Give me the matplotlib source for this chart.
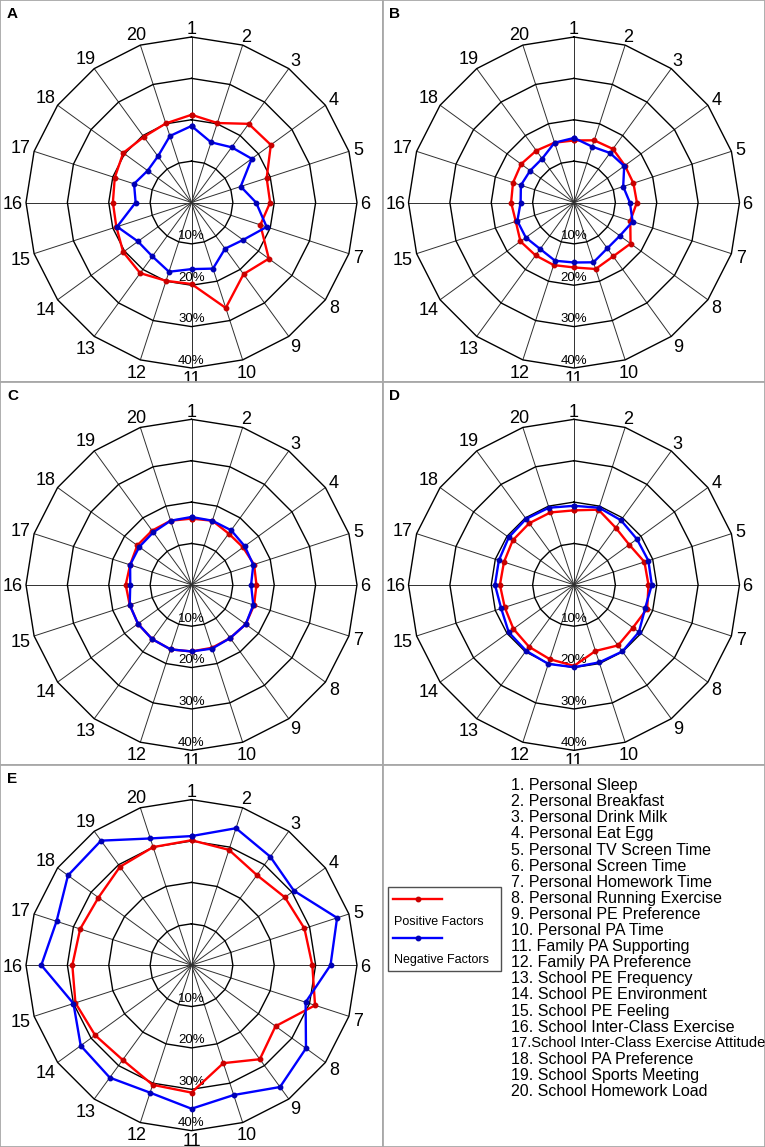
import numpy as np
import matplotlib
matplotlib.use('Agg')
import matplotlib.pyplot as plt
from matplotlib.patches import Rectangle
from matplotlib.lines import Line2D

plt.rcParams['font.family'] = ['Liberation Sans', 'DejaVu Sans']

# 20 factors, values in percent
spokes = list(range(1, 21))
rings = [10, 20, 30, 40]
ring_labels = ['10%', '20%', '30%', '40%']

a_pos = [21.2, 20.2, 23.5, 23.7, 19.1, 19.0, 17.5, 23.1, 21.4, 26.8,
         19.7, 19.9, 21.1, 20.4, 19.1, 19.0, 19.5, 20.4, 19.6, 20.1]
a_neg = [18.5, 15.3, 16.5, 18.0, 12.5, 15.6, 19.1, 15.4, 13.8, 16.8,
         16.1, 17.6, 16.1, 16.0, 18.9, 13.5, 14.6, 13.1, 13.8, 16.9]
b_pos = [15.0, 15.8, 16.0, 15.2, 15.1, 15.2, 14.3, 16.9, 16.1, 16.9,
         15.7, 15.9, 15.8, 16.0, 14.8, 15.2, 15.5, 15.8, 15.5, 15.2]
b_neg = [15.6, 14.2, 14.8, 15.0, 12.5, 13.5, 14.9, 13.7, 13.7, 15.2,
         14.5, 14.8, 13.9, 14.4, 14.4, 12.9, 13.5, 13.1, 13.1, 15.2]
c_pos = [16.0, 16.3, 15.3, 15.4, 15.9, 15.7, 15.9, 16.2, 15.9, 16.0,
         16.1, 16.4, 16.2, 16.0, 15.7, 15.9, 15.6, 16.2, 16.2, 16.3]
c_neg = [16.4, 16.3, 16.3, 15.9, 15.7, 14.4, 15.7, 16.2, 15.9, 16.2,
         16.1, 16.4, 16.2, 16.0, 15.7, 14.8, 15.6, 15.6, 15.7, 16.3]
d_pos = [18.0, 19.1, 17.1, 16.5, 17.9, 18.0, 18.6, 17.6, 18.1, 16.8,
         19.6, 18.9, 18.5, 18.1, 17.6, 17.9, 17.8, 18.3, 18.4, 18.4]
d_neg = [19.1, 19.6, 19.3, 18.8, 18.9, 18.8, 18.1, 19.4, 19.9, 19.7,
         19.9, 20.1, 19.7, 19.5, 18.5, 19.1, 19.1, 19.5, 19.7, 19.6]
e_pos = [30.2, 29.3, 26.9, 27.9, 28.7, 29.2, 31.4, 25.1, 28.1, 24.9,
         30.8, 30.4, 28.3, 28.8, 29.5, 28.8, 28.3, 27.8, 29.4, 30.0]
e_neg = [31.2, 34.8, 32.4, 30.6, 37.0, 33.6, 29.0, 34.2, 36.4, 33.0,
         34.7, 32.4, 33.6, 33.1, 30.0, 36.3, 34.3, 36.9, 37.2, 32.2]

panel_names = ['A', 'B', 'C', 'D', 'E']
panel_pos = [a_pos, b_pos, c_pos, d_pos, e_pos]
panel_neg = [a_neg, b_neg, c_neg, d_neg, e_neg]

factor_names = [
    '1. Personal Sleep', '2. Personal Breakfast', '3. Personal Drink Milk',
    '4. Personal Eat Egg', '5. Personal TV Screen Time', '6. Personal Screen Time',
    '7. Personal Homework Time', '8. Personal Running Exercise',
    '9. Personal PE Preference', '10. Personal PA Time',
    '11. Family PA Supporting', '12. Family PA Preference',
    '13. School PE Frequency', '14. School PE Environment',
    '15. School PE Feeling', '16. School Inter-Class Exercise',
    '17.School Inter-Class Exercise Attitude', '18. School PA Preference',
    '19. School Sports Meeting', '20. School Homework Load',
]

FW, FH = 765, 1147
CW, CH = FW / 2, FH / 3
R = 165.5
POS_COLOR, NEG_COLOR = '#ff0000', '#0000ff'

fig = plt.figure(figsize=(FW / 100, FH / 100), dpi=100)


def frame_axes(row, col):
    fa = fig.add_axes([col * CW / FW, 1 - (row + 1) * CH / FH, CW / FW, CH / FH])
    fa.set_xlim(0, CW)
    fa.set_ylim(CH, 0)
    fa.set_xticks([])
    fa.set_yticks([])
    fa.set_facecolor('white')
    for s in fa.spines.values():
        s.set_color('#a8a8a8')
        s.set_linewidth(1.3)
    return fa


theta = np.deg2rad((np.array(spokes) - 1) * 18.0)
theta_c = np.append(theta, theta[0])

for i, name in enumerate(panel_names):
    row, col = i // 2, i % 2
    fa = frame_axes(row, col)
    fa.text(7, 14, name, fontsize=11, fontweight='bold', ha='left', va='center')

    cx, cy = 191.5, (202.5 if row < 2 else 200.5)
    x0, y0 = col * CW, row * CH
    ax = fig.add_axes([(x0 + cx - R) / FW, 1 - (y0 + cy + R) / FH,
                       2 * R / FW, 2 * R / FH], projection='polar')
    ax.set_theta_zero_location('N')
    ax.set_theta_direction(-1)
    ax.set_ylim(0, 40)
    ax.set_yticks([])
    ax.spines['polar'].set_visible(False)
    ax.set_thetagrids(np.rad2deg(theta), labels=[''] * len(spokes))
    ax.xaxis.grid(True, color='#303030', linewidth=0.7)

    # spoke numbers just outside the outer ring
    for t, k in zip(theta, spokes):
        w = 10.0 * len(str(k))
        d = 3 + abs(np.sin(t)) * w / 2 + abs(np.cos(t)) * 6.2
        ax.annotate(str(k), xy=(t, 40),
                    xytext=(np.sin(t) * d, np.cos(t) * d - 2),
                    textcoords='offset pixels', ha='center', va='center',
                    fontsize=13, annotation_clip=False)

    for r, lbl in zip(rings, ring_labels):
        ax.plot(theta_c, [r] * len(theta_c), color='black', lw=1.0,
                clip_on=False, zorder=2)
        ax.text(np.pi, r - 1.8, lbl, ha='center', va='center', fontsize=9.5,
                zorder=3)

    pos = panel_pos[i]
    neg = panel_neg[i]
    ax.plot(theta_c, pos + pos[:1], color=POS_COLOR, lw=1.7, marker='o',
            ms=3.2, mfc='#c80000', mec='#c80000', zorder=4, clip_on=False)
    ax.plot(theta_c, neg + neg[:1], color=NEG_COLOR, lw=1.7, marker='o',
            ms=3.2, mfc='#0000b4', mec='#0000b4', zorder=5, clip_on=False)

# legend / factor list panel
la = frame_axes(2, 1)
la.add_patch(Rectangle((5.5, 122.3), 113, 84, fill=False, edgecolor='#505050',
                       linewidth=1.0))
la.add_line(Line2D([10.5, 59.5], [134.3, 134.3], color=POS_COLOR, lw=1.7))
la.add_line(Line2D([35], [134.3], color='#c80000', marker='o', ms=3.2))
la.text(11.5, 157, 'Positive Factors', fontsize=9, ha='left', va='center')
la.add_line(Line2D([10.5, 59.5], [173.3, 173.3], color=NEG_COLOR, lw=1.7))
la.add_line(Line2D([35], [173.3], color='#0000b4', marker='o', ms=3.2))
la.text(11.5, 195.3, 'Negative Factors', fontsize=9, ha='left', va='center')

for j, fname in enumerate(factor_names):
    size = 10.5 if fname.startswith('17.') else 11.5
    la.text(128.5, 21 + j * 16.1, fname, fontsize=size, ha='left', va='center')

fig.savefig('out.png', dpi=100)
